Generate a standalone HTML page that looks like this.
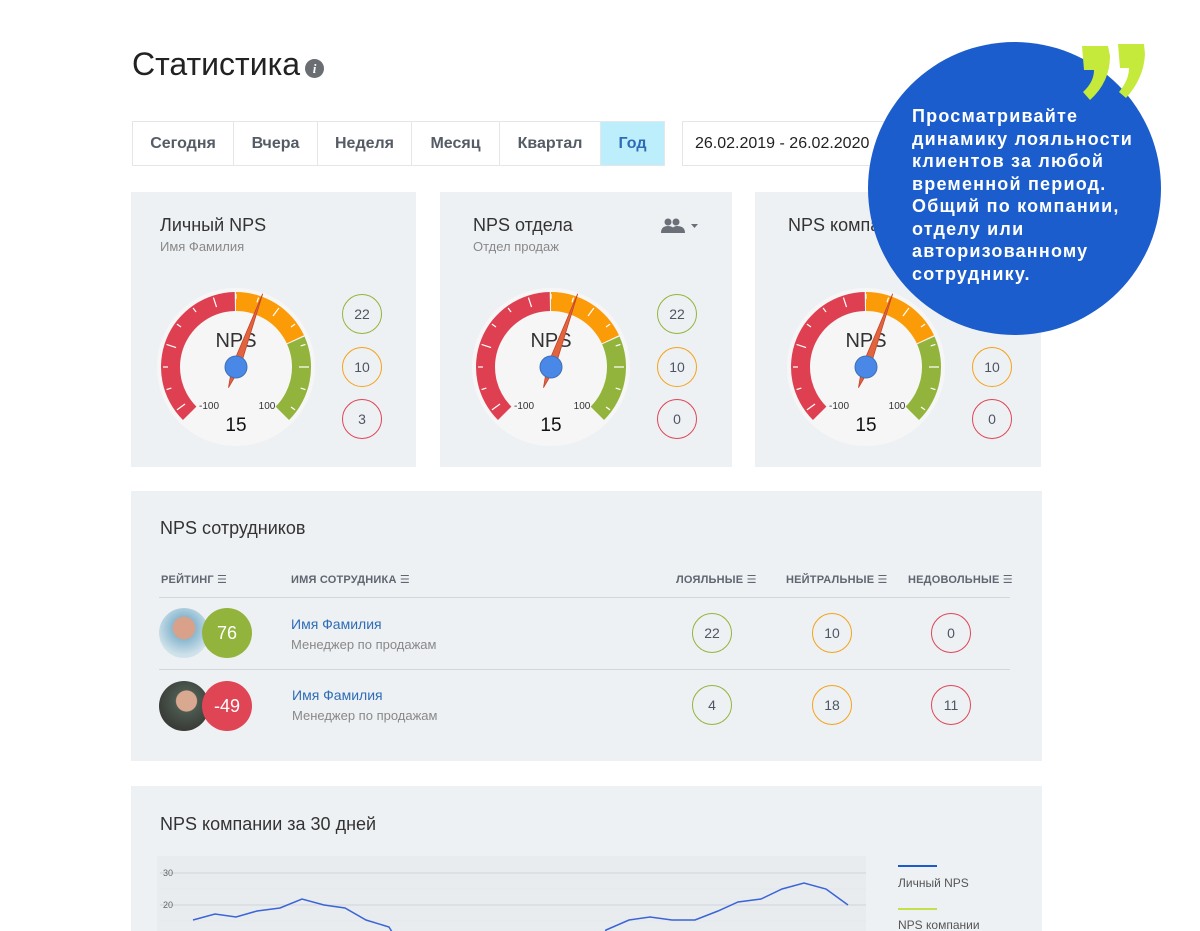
<!DOCTYPE html>
<html><head><meta charset="utf-8">
<style>
*{margin:0;padding:0;box-sizing:border-box}
body{width:1200px;height:931px;overflow:hidden;background:#fff;font-family:"Liberation Sans","DejaVu Sans",sans-serif;position:relative;color:#333}
.a{position:absolute}
.card{position:absolute;background:#eef1f4}
.tabs{position:absolute;left:132px;top:121px;height:45px;display:flex;border:1px solid #e4e7ea}
.tabs div{height:43px;line-height:43px;text-align:center;font-size:16px;font-weight:bold;color:#555c66;border-right:1px solid #e4e7ea}
.t{font-size:18px;color:#333}
.s{font-size:13px;color:#888}
.c{position:absolute;width:40px;height:40px;border-radius:50%;border:1.3px solid;text-align:center;line-height:38px;font-size:14px;color:#4e5563}
.g{border-color:#93b43c}.o{border-color:#f5a21a}.r{border-color:#e04555}
.th{position:absolute;font-size:11px;font-weight:bold;color:#5f6670;letter-spacing:.2px}
.line{position:absolute;height:1px;background:#d3d7dc;left:159px;width:851px}
.nm{position:absolute;font-size:14px;color:#2e6db5}
.jb{position:absolute;font-size:13px;color:#888}
.sc{position:absolute;width:50px;height:50px;border-radius:50%;color:#fff;text-align:center;line-height:50px;font-size:18px}
.av{position:absolute;width:50px;height:50px;border-radius:50%}
</style></head><body>
<div class="a" style="left:132px;top:46px;font-size:32px;color:#222;font-weight:300">Статистика</div>
<div class="a" style="left:305px;top:59px;width:19px;height:19px;border-radius:50%;background:#6a6d72;color:#fff;font-size:13px;font-weight:bold;text-align:center;line-height:19px;font-style:italic;font-family:'Liberation Serif',serif">i</div>
<div class="tabs">
<div style="width:101px">Сегодня</div><div style="width:84px">Вчера</div><div style="width:94px">Неделя</div><div style="width:88px">Месяц</div><div style="width:101px">Квартал</div><div style="width:63px;background:#bdeefc;color:#2e6db5;border-right:none">Год</div>
</div>
<div class="a" style="left:682px;top:121px;width:260px;height:45px;border:1px solid #e4e7ea;font-size:16px;line-height:43px;padding-left:12px;color:#222">26.02.2019 - 26.02.2020</div>

<div class="card" style="left:131px;top:192px;width:285px;height:275px"></div>
<div class="card" style="left:440px;top:192px;width:292px;height:275px"></div>
<div class="card" style="left:755px;top:192px;width:286px;height:275px"></div>
<div class="a t" style="left:160px;top:215px">Личный NPS</div>
<div class="a s" style="left:160px;top:239px">Имя Фамилия</div>
<div class="a t" style="left:473px;top:215px">NPS отдела</div>
<div class="a s" style="left:473px;top:239px">Отдел продаж</div>
<div class="a t" style="left:788px;top:215px">NPS компании</div>
<svg class="a" style="left:660px;top:217px" width="42" height="18"><circle cx="8" cy="5" r="3.5" fill="#6a6f78"/><circle cx="16" cy="5" r="3.5" fill="#6a6f78"/><path d="M1 16 Q1 9 8 9 Q15 9 15 16Z M10 16 Q12 9 17 9 Q25 9 25 16Z" fill="#6a6f78"/><path d="M31 7 L38 7 L34.5 11Z" fill="#6a6f78"/></svg>
<div id="gauges"></div>

<div class="c g" style="left:342px;top:294px">22</div><div class="c o" style="left:342px;top:347px">10</div><div class="c r" style="left:342px;top:399px">3</div>
<div class="c g" style="left:657px;top:294px">22</div><div class="c o" style="left:657px;top:347px">10</div><div class="c r" style="left:657px;top:399px">0</div>
<div class="c o" style="left:972px;top:347px">10</div><div class="c r" style="left:972px;top:399px">0</div>

<div class="card" style="left:131px;top:491px;width:911px;height:270px"></div>
<div class="a t" style="left:160px;top:518px">NPS сотрудников</div>
<div class="th" style="left:161px;top:573px">РЕЙТИНГ ☰</div>
<div class="th" style="left:291px;top:573px">ИМЯ СОТРУДНИКА ☰</div>
<div class="th" style="left:676px;top:573px">ЛОЯЛЬНЫЕ ☰</div>
<div class="th" style="left:786px;top:573px">НЕЙТРАЛЬНЫЕ ☰</div>
<div class="th" style="left:908px;top:573px">НЕДОВОЛЬНЫЕ ☰</div>
<div class="line" style="top:597px"></div>
<div class="line" style="top:669px"></div>
<div class="av" style="left:159px;top:608px;background:radial-gradient(circle at 50% 40%,#d9a08a 0 28%,#8bb8d0 30%,#cfe2ea 70%)"></div>
<div class="sc" style="left:202px;top:608px;background:#93b43c">76</div>
<div class="av" style="left:159px;top:681px;background:radial-gradient(circle at 55% 40%,#d9a890 0 25%,#4c5a50 27%,#3a3c38 70%)"></div>
<div class="sc" style="left:202px;top:681px;background:#e04555">-49</div>
<div class="nm" style="left:291px;top:616px">Имя Фамилия</div>
<div class="jb" style="left:291px;top:637px">Менеджер по продажам</div>
<div class="nm" style="left:292px;top:687px">Имя Фамилия</div>
<div class="jb" style="left:292px;top:708px">Менеджер по продажам</div>
<div class="c g" style="left:692px;top:613px">22</div><div class="c o" style="left:812px;top:613px">10</div><div class="c r" style="left:931px;top:613px">0</div>
<div class="c g" style="left:692px;top:685px">4</div><div class="c o" style="left:812px;top:685px">18</div><div class="c r" style="left:931px;top:685px">11</div>

<div class="card" style="left:131px;top:786px;width:911px;height:145px"></div>
<div class="a t" style="left:160px;top:814px">NPS компании за 30 дней</div>
<svg class="a" style="left:0;top:840px" width="1200" height="91">
<rect x="157" y="16" width="709" height="80" fill="#e9ecef"/>
<line x1="160" y1="33" x2="866" y2="33" stroke="#dcdfe3" stroke-width="2"/>
<line x1="160" y1="49" x2="866" y2="49" stroke="#e4e7ea" stroke-width="1"/>
<line x1="160" y1="65" x2="866" y2="65" stroke="#dcdfe3" stroke-width="2"/>
<line x1="160" y1="81" x2="866" y2="81" stroke="#e4e7ea" stroke-width="1"/>
<text x="163" y="36" font-size="9" fill="#666" font-family="Liberation Sans">30</text>
<text x="163" y="68" font-size="9" fill="#666" font-family="Liberation Sans">20</text>
<polyline fill="none" stroke="#3a64d8" stroke-width="1.5" points="193,80 215,74 236,77 257,71 280,68 302,59 324,65 345,68 366,80 389,87 400,105 600,105 606,90 629,80 650,77 672,80 695,80 718,71 738,62 761,59 782,49 804,43 826,49 848,65"/>
<line x1="898" y1="26" x2="937" y2="26" stroke="#1a5acd" stroke-width="2"/>
<text x="898" y="47" font-size="12" fill="#555" font-family="Liberation Sans">Личный NPS</text>
<line x1="898" y1="69" x2="937" y2="69" stroke="#c5e04a" stroke-width="2"/>
<text x="898" y="89" font-size="12" fill="#555" font-family="Liberation Sans">NPS компании</text>
</svg>

<div class="a" style="left:868px;top:42px;width:293px;height:293px;border-radius:50%;background:#1b5dcc"></div>
<svg class="a" style="left:1080px;top:42px" width="70" height="62"><path d="M2 4 L28 4 L30 14 Q30 40 10 58 L3 50 Q14 40 14 28 L4 28Z" fill="#c5ea3c"/><path d="M38 2 L64 2 L65 12 Q64 36 46 56 L39 50 Q49 38 49 26 L40 26Z" fill="#c5ea3c"/></svg>
<div class="a" style="left:912px;top:105px;width:250px;font-size:18px;line-height:22.5px;font-weight:bold;color:#fff;letter-spacing:1.2px">Просматривайте динамику лояльности клиентов за любой временной период. Общий по компании, отделу или авторизованному сотруднику.</div>

<script>
function pol(cx,cy,r,a){a=a*Math.PI/180;return [cx+r*Math.sin(a),cy-r*Math.cos(a)];}
function arc(cx,cy,r1,r2,a1,a2,col){var p1=pol(cx,cy,r2,a1),p2=pol(cx,cy,r2,a2),p3=pol(cx,cy,r1,a2),p4=pol(cx,cy,r1,a1);var l=(a2-a1)>180?1:0;
return '<path d="M'+p1+' A'+r2+' '+r2+' 0 '+l+' 1 '+p2+' L'+p3+' A'+r1+' '+r1+' 0 '+l+' 0 '+p4+'Z" fill="'+col+'"/>';}
var out='';
[236,551,866].forEach(function(cx){var cy=367;
var s='<svg class="a" style="left:0;top:0" width="1200" height="931">';
s+='<circle cx="'+cx+'" cy="'+cy+'" r="79" fill="#f6f6f6"/>';
s+=arc(cx,cy,56,75,-135,-1,'#de4052')+arc(cx,cy,56,75,0,65,'#fb9b07')+arc(cx,cy,56,75,66,135,'#93b43c');
for(var a=-126;a<=126;a+=18){var q1=pol(cx,cy,73,a),q2=pol(cx,cy,(a+126)%54==0?63:68,a);s+='<line x1="'+q1[0]+'" y1="'+q1[1]+'" x2="'+q2[0]+'" y2="'+q2[1]+'" stroke="#fff" stroke-width="1.2"/>';}
s+='<text x="'+cx+'" y="'+(cy-20)+'" font-size="20" text-anchor="middle" fill="#333" font-family="Liberation Sans">NPS</text>';
s+='<text x="'+(cx-27)+'" y="'+(cy+42)+'" font-size="10" text-anchor="middle" fill="#333" font-family="Liberation Sans">-100</text>';
s+='<text x="'+(cx+31)+'" y="'+(cy+42)+'" font-size="10" text-anchor="middle" fill="#333" font-family="Liberation Sans">100</text>';
s+='<text x="'+cx+'" y="'+(cy+64)+'" font-size="19" text-anchor="middle" fill="#111" font-family="Liberation Sans">15</text>';
s+='<g transform="rotate(20 '+cx+' '+cy+')"><path d="M'+(cx-4)+' '+cy+' L'+cx+' '+(cy-78)+' L'+(cx+4)+' '+cy+' L'+cx+' '+(cy+22)+'Z" fill="#e2643f" stroke="#c2432a" stroke-width=".8"/></g>';
s+='<circle cx="'+cx+'" cy="'+cy+'" r="11" fill="#4a88e8" stroke="#3d6fb8" stroke-width="1"/>';
s+='</svg>';out+=s;});
document.getElementById('gauges').innerHTML=out;
</script>
</body></html>
